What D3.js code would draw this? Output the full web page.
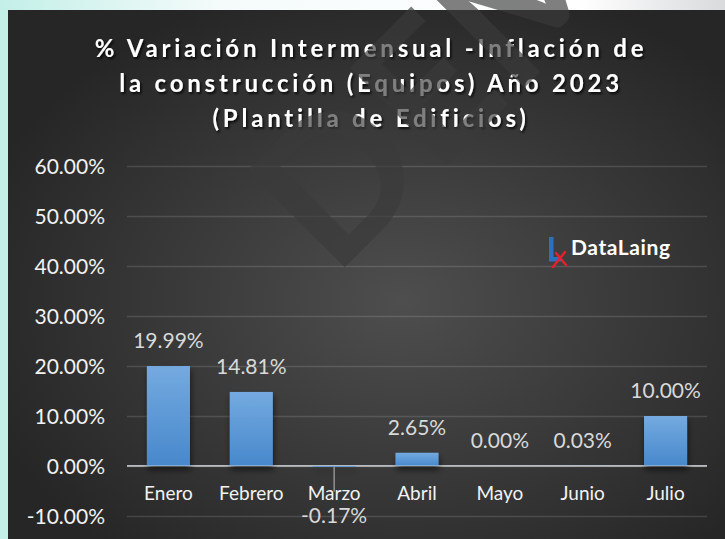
<!DOCTYPE html>
<html>
<head>
<meta charset="utf-8">
<script src="https://cdn.jsdelivr.net/npm/d3@7"></script>
<style>
	html, body { margin: 0; padding: 0; background: #fff; }
	svg { display: block; font-family: Lato, "Open Sans", sans-serif; }
</style>
</head>
<body>
<svg id="chart" width="725" height="539"></svg>
<script>
var months = ["Enero", "Febrero", "Marzo", "Abril", "Mayo", "Junio", "Julio"];
var variation = [19.99, 14.81, -0.17, 2.65, 0.00, 0.03, 10.00];
var yTicks = [-10, 0, 10, 20, 30, 40, 50, 60];
var titleLines = [
	"% Variación Intermensual -Inflación de",
	"la construcción (Equipos) Año 2023",
	"(Plantilla de Edificios)"
];

var Chart = (function(){
	var svg, defs;
	var width = 725, height = 539;
	var panel = {x: 8, y: 10};
	var plot = {left: 127, right: 707, top: 166, bottom: 516};

	var setup = function(){
		svg = d3.select("#chart");
		defs = svg.append("defs");

		var bg = defs.append("radialGradient").attr("id", "panelBg")
			.attr("cx", "55%").attr("cy", "55%").attr("r", "62%");
		bg.append("stop").attr("offset", "0%").attr("stop-color", "#4e4e4e");
		bg.append("stop").attr("offset", "100%").attr("stop-color", "#262626");

		var strip = defs.append("linearGradient").attr("id", "stripBg")
			.attr("x1", "0%").attr("x2", "100%");
		strip.append("stop").attr("offset", "0%").attr("stop-color", "#c3efe8");
		strip.append("stop").attr("offset", "30%").attr("stop-color", "#f4fbfa");
		strip.append("stop").attr("offset", "80%").attr("stop-color", "#ffffff");
		strip.append("stop").attr("offset", "100%").attr("stop-color", "#d8dadc");

		var bar = defs.append("linearGradient").attr("id", "barFill")
			.attr("x1", "0").attr("x2", "0").attr("y1", "0").attr("y2", "1");
		bar.append("stop").attr("offset", "0%").attr("stop-color", "#74aae0");
		bar.append("stop").attr("offset", "100%").attr("stop-color", "#4788cc");

		defs.append("filter").attr("id", "barShadow")
			.attr("x", "-30%").attr("y", "-30%").attr("width", "160%").attr("height", "160%")
			.append("feDropShadow")
			.attr("dx", 1).attr("dy", 4).attr("stdDeviation", 3)
			.attr("flood-color", "#000").attr("flood-opacity", 0.55);

		defs.append("filter").attr("id", "textShadow")
			.append("feDropShadow")
			.attr("dx", 1.5).attr("dy", 2).attr("stdDeviation", 1.2)
			.attr("flood-color", "#000").attr("flood-opacity", 0.8);
	}

	var drawBackground = function(){
		svg.append("rect").attr("width", width).attr("height", height).attr("fill", "#c3efe8");
		svg.append("rect").attr("width", width).attr("height", panel.y).attr("fill", "url(#stripBg)");
		svg.append("rect")
			.attr("x", panel.x).attr("y", panel.y)
			.attr("width", width - panel.x).attr("height", height - panel.y)
			.attr("fill", "url(#panelBg)");
	}

	var drawTitle = function(){
		svg.append("g").attr("filter", "url(#textShadow)")
			.selectAll("text")
			.data(titleLines)
			.enter()
			.append("text")
			.attr("x", 371)
			.attr("y", function(d, i){ return 57 + i * 35; })
			.attr("text-anchor", "middle")
			.attr("fill", "#ffffff")
			.attr("font-size", 24)
			.attr("font-weight", "bold")
			.attr("letter-spacing", 3.8)
			.text(function(d){ return d; });
	}

	var drawBars = function(){
		var data = months.map(function(m, i){ return {label: m, value: variation[i]}; });

		var x = d3.scaleBand().domain(months)
			.range([plot.left, plot.right])
			.paddingInner(0.48).paddingOuter(0.24);
		var y = d3.scaleLinear().domain([-10, 60]).range([plot.bottom, plot.top]);

		// gridlines + y labels
		var yAxis = d3.axisLeft(y).tickValues(yTicks)
			.tickSize(-(plot.right - plot.left))
			.tickPadding(22)
			.tickFormat(function(d){ return d.toFixed(2) + "%"; });
		var ax = svg.append("g").attr("transform", "translate(" + plot.left + ",0)").call(yAxis);
		ax.select(".domain").remove();
		ax.selectAll(".tick line")
			.attr("stroke", "#ffffff").attr("stroke-opacity", 0.13).attr("stroke-width", 1.5);
		ax.selectAll(".tick text")
			.attr("fill", "#f2f2f2").attr("font-size", 21).attr("dy", "0.36em")
			.attr("font-family", "Lato, sans-serif");

		// watermark sits over gridlines
		svg.append("text")
			.attr("transform", "translate(334,278) rotate(-45)")
			.attr("font-size", 190)
			.attr("font-weight", "bold")
			.attr("fill", "#3b3b3b")
			.attr("fill-opacity", 0.65)
			.text("DEMO");

		// zero line under the bars, so tiny values still show
		svg.append("line")
			.attr("x1", plot.left).attr("x2", plot.right)
			.attr("y1", y(0)).attr("y2", y(0))
			.attr("stroke", "#a6a6a6").attr("stroke-width", 2);

		svg.append("g").attr("filter", "url(#barShadow)")
			.selectAll("rect")
			.data(data)
			.enter()
			.append("rect")
			.attr("x", function(d){ return x(d.label); })
			.attr("width", x.bandwidth())
			.attr("y", function(d){ return y(Math.max(0, d.value)); })
			.attr("height", function(d){ return Math.abs(y(d.value) - y(0)); })
			.attr("fill", "url(#barFill)");

		svg.append("line")
			.attr("x1", plot.left).attr("x2", plot.right)
			.attr("y1", y(0) - 0.5).attr("y2", y(0) - 0.5)
			.attr("stroke", "#c8d8e8").attr("stroke-opacity", 0.45).attr("stroke-width", 1);

		// leader line for the negative label
		svg.selectAll(".leader")
			.data(data.filter(function(d){ return d.value < 0; }))
			.enter()
			.append("line")
			.attr("class", "leader")
			.attr("x1", function(d){ return x(d.label) + x.bandwidth() / 2; })
			.attr("x2", function(d){ return x(d.label) + x.bandwidth() / 2; })
			.attr("y1", function(d){ return y(d.value); })
			.attr("y2", function(d){ return y(d.value) + 25; })
			.attr("stroke", "#a6a6a6").attr("stroke-width", 1.2);

		// category labels
		svg.selectAll(".cat")
			.data(months)
			.enter()
			.append("text")
			.attr("class", "cat")
			.attr("x", function(d){ return x(d) + x.bandwidth() / 2; })
			.attr("y", y(0) + 34)
			.attr("text-anchor", "middle")
			.attr("fill", "#f2f2f2")
			.attr("font-size", 19)
			.text(function(d){ return d; });

		// data labels
		svg.selectAll(".val")
			.data(data)
			.enter()
			.append("text")
			.attr("class", "val")
			.attr("x", function(d){ return x(d.label) + x.bandwidth() / 2; })
			.attr("y", function(d){ return d.value < 0 ? y(d.value) + 56 : y(d.value) - 18; })
			.attr("text-anchor", "middle")
			.attr("fill", "#d9d9d9")
			.attr("font-size", 21)
			.text(function(d){ return d.value.toFixed(2) + "%"; });
	}

	var drawLogo = function(){
		var logo = svg.append("g").attr("transform", "translate(549,237)");
		logo.append("path")
			.attr("d", "M0,0 h4.5 v20 h8 v4.5 h-12.5 z")
			.attr("fill", "#2f6fc0");
		logo.append("path")
			.attr("d", "M4,30 L16,15 M7,16 L17,28")
			.attr("stroke", "#e8202a").attr("stroke-width", 2.4)
			.attr("stroke-linecap", "round").attr("fill", "none");
		logo.append("text")
			.attr("x", 22).attr("y", 18)
			.attr("fill", "#ffffff")
			.attr("font-size", 21)
			.attr("font-weight", "bold")
			.attr("letter-spacing", 0.6)
			.text("DataLaing");
	}

	return {
		setup: setup,
		render: function(){
			drawBackground();
			drawTitle();
			drawBars();
			drawLogo();
		}
	}
})();

Chart.setup();
Chart.render();
</script>
</body>
</html>
